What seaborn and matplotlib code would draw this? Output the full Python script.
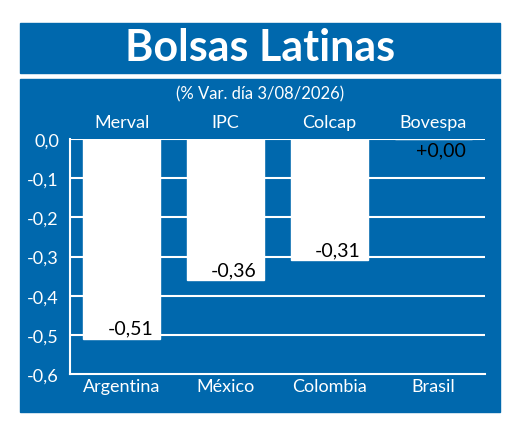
import matplotlib
matplotlib.use("Agg")
import matplotlib.pyplot as plt
import seaborn as sns
import pandas as pd
from matplotlib.patches import Rectangle

countries = ["Argentina", "México", "Colombia", "Brasil"]
indices = ["Merval", "IPC", "Colcap", "Bovespa"]
values = [-0.51, -0.36, -0.31, 0.00]
labels = ["-0,51", "-0,36", "-0,31", "+0,00"]
yticks = [0.0, -0.1, -0.2, -0.3, -0.4, -0.5, -0.6]

sns.set_theme(style="white")
plt.rcParams['font.family'] = ['Lato', 'DejaVu Sans']
blue = "#0068ad"

fig = plt.figure(figsize=(5.2, 4.31), dpi=100)
fig.patch.set_facecolor("white")
fig.add_artist(Rectangle((20/520, 1-74/431), 480/520, 50/431, transform=fig.transFigure, color=blue, zorder=0))
fig.add_artist(Rectangle((20/520, 1-413/431), 480/520, 333/431, transform=fig.transFigure, color=blue, zorder=0))
fig.text(0.5, 1-48/431, "Bolsas Latinas", ha="center", va="center", color="white", fontsize=31, fontweight="bold")
fig.text(0.5, 1-94/431, "(% Var. día 3/08/2026)", ha="center", va="center", color="white", fontsize=12)

ax = fig.add_axes([70/520, 56/431, 415/520, 235/431])
ax.set_facecolor("none")
df = pd.DataFrame({"country": countries, "value": values})
sns.barplot(data=df, x="country", y="value", color="white", saturation=1, width=0.74, ax=ax, zorder=3)
ax.set_xlim(-0.5, 3.5)
ax.set_ylim(-0.6, 0)
ax.set_yticks(yticks)
ax.set_yticklabels([f"{t:.1f}".replace(".", ",") for t in yticks], color="white", fontsize=13)
for y in yticks[:-1]:
    ax.axhline(y, color="white", lw=1.5, zorder=1)
for s in ["top", "right"]:
    ax.spines[s].set_visible(False)
for s in ["left", "bottom"]:
    ax.spines[s].set_color("white")
    ax.spines[s].set_linewidth(1.5)
ax.set_xlabel("")
ax.set_ylabel("")
ax.tick_params(axis="x", colors="white", labelsize=13, length=0, pad=3)
ax.tick_params(axis="y", length=0, pad=8)
for i, (v, l) in enumerate(zip(values, labels)):
    if v < 0:
        ax.text(i + 0.08, v + 0.005, l, ha="center", va="bottom", fontsize=14, color="black", zorder=5)
    else:
        ax.text(i + 0.08, -0.006, l, ha="center", va="top", fontsize=14, color="black", zorder=5)
for i, n in enumerate(indices):
    ax.text(i, 0.022, n, ha="center", va="bottom", fontsize=13, color="white")
fig.savefig("out.png", dpi=100)
